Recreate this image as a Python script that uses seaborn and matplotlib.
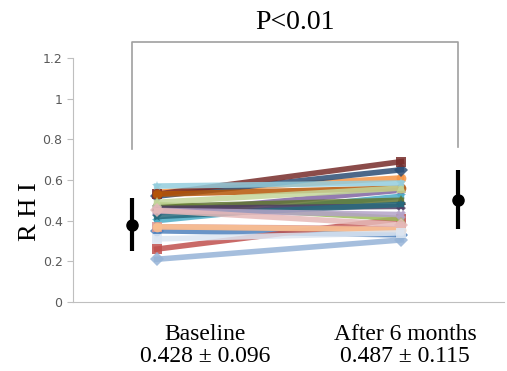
import matplotlib
matplotlib.use("Agg")
import matplotlib.pyplot as plt
import seaborn as sns
import pandas as pd

# per-patient RHI values
baseline = [0.35, 0.26, 0.48, 0.44, 0.40, 0.54, 0.52, 0.53, 0.47, 0.46,
            0.42, 0.53, 0.21, 0.37, 0.49, 0.45, 0.57, 0.37, 0.45, 0.31]
after = [0.33, 0.41, 0.41, 0.55, 0.52, 0.61, 0.65, 0.69, 0.50, 0.47,
         0.48, 0.56, 0.305, 0.36, 0.56, 0.43, 0.585, 0.355, 0.38, 0.34]
colors = ["#4F81BD", "#C0504D", "#9BBB59", "#8064A2", "#4BACC6", "#F79646",
          "#2C4D75", "#772C2A", "#5F7530", "#4D3B62", "#276A7C", "#B65708",
          "#95B3D7", "#D99694", "#C3D69B", "#B3A2C7", "#93CDDD", "#FAC090",
          "#E6B9B8", "#DCE6F2"]
markers = ["D", "s", "^", "X", "*", "o"]

# group mean +/- SD markers (as drawn)
group_mean = [0.38, 0.50]
group_lo = [0.25, 0.36]
group_hi = [0.51, 0.65]
cat_labels = ["Baseline\n0.428 \u00b1 0.096", "After 6 months\n0.487 \u00b1 0.115"]

x_line = [0.194, 0.762]
x_err = [0.137, 0.894]

rows = []
for i, (b, a) in enumerate(zip(baseline, after)):
    rows.append({"subj": i, "x": x_line[0], "rhi": b})
    rows.append({"subj": i, "x": x_line[1], "rhi": a})
df = pd.DataFrame(rows)

fig = plt.figure(figsize=(5.07, 3.71), dpi=100)
ax = fig.add_axes([0.144, 0.186, 0.85, 0.658])

sns.lineplot(data=df, x="x", y="rhi", hue="subj", style="subj",
             palette=colors, markers=[markers[i % 6] for i in range(len(baseline))],
             dashes=False, lw=4, markersize=7, alpha=0.85,
             markeredgewidth=0, legend=False, ax=ax)

for xe, m, lo, hi in zip(x_err, group_mean, group_lo, group_hi):
    ax.plot([xe, xe], [lo, hi], color="black", lw=3, solid_capstyle="butt")
    ax.plot(xe, m, "o", color="black", ms=8)

ax.set_xlim(0, 1)
ax.set_ylim(0, 1.2)
ax.set_yticks([0, 0.2, 0.4, 0.6, 0.8, 1.0, 1.2])
ax.set_yticklabels(["0", "0.2", "0.4", "0.6", "0.8", "1", "1.2"],
                   fontsize=9, color="#595959")
ax.set_xticks([])
ax.set_xlabel("")
ax.set_ylabel("R H I", family="Liberation Serif", fontsize=19)
ax.yaxis.set_label_coords(-0.075, 0.37)
for s in ["top", "right"]:
    ax.spines[s].set_visible(False)
for s in ["left", "bottom"]:
    ax.spines[s].set_color("#BFBFBF")
ax.tick_params(axis="y", color="#BFBFBF", length=4)

# significance bracket
bx = [x_err[0], x_err[0], x_err[1], x_err[1]]
by = [0.75, 1.28, 1.28, 0.76]
ax.plot(bx, by, color="#A0A0A0", lw=1.2, clip_on=False)
ax.text(0.515, 1.31, "P<0.01", ha="center", va="bottom",
        family="Liberation Serif", fontsize=20, clip_on=False)

for xc, lab in zip([205 / 507, 405 / 507], cat_labels):
    fig.text(xc, 0.012, lab, ha="center", va="bottom",
             family="Liberation Serif", fontsize=17, linespacing=1.05)

fig.savefig("out.png", dpi=100)
